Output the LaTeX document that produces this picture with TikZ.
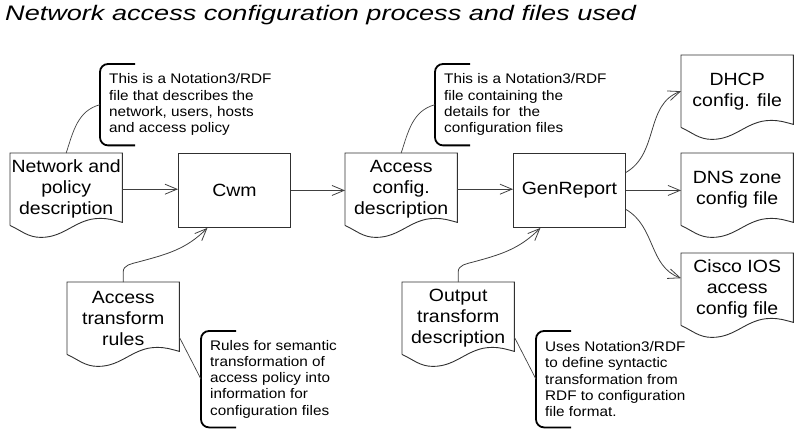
\documentclass[tikz,border=0pt]{standalone}
\usepackage{fontspec}
\setmainfont{Liberation Sans}[FakeStretch=1.1]
\newfontfamily\titlefont{Liberation Sans}[FakeStretch=1.29]
\usetikzlibrary{arrows.meta,calc}
\definecolor{boxcol}{HTML}{303030}
\definecolor{linecol}{HTML}{404040}
\tikzset{
 lbl/.style={font=\fontsize{17.7}{21}\selectfont},
 docnode/.style={lbl, minimum width=112pt, minimum height=72pt, inner sep=0pt, align=center, anchor=north west},
 procbox/.style={lbl, draw=boxcol, line width=0.9pt, minimum width=112pt, minimum height=74pt, inner sep=0pt, anchor=north west},
 notebox/.style={font=\fontsize{13.9}{16.2}\selectfont, align=left, inner xsep=9pt, inner ysep=0pt, anchor=north west, minimum height=81pt},
 docline/.style={draw=boxcol, line width=0.9pt},
 bracketline/.style={draw=black, line width=1.8pt, rounded corners=8pt},
 flow/.style={draw=linecol, line width=0.8pt, -{Straight Barb[length=12pt,width=10pt]}},
 leader/.style={draw=linecol, line width=0.7pt},
}
\newcommand\docoutline[1]{\draw[docline] (#1.south west) -- (#1.north west) -- (#1.north east) -- ($(#1.south east)+(0,3)$) to[out=165,in=0] ($(#1.south west)+(90,7)$) to[out=180,in=0] ($(#1.south west)+(31,-12)$) to[out=180,in=-25] (#1.south west);}
\newcommand\bracketfor[1]{\draw[bracketline] ($(#1.north west)+(35,0)$) -- (#1.north west) -- (#1.south west) -- ($(#1.south west)+(35,0)$);}
\begin{document}
\begin{tikzpicture}[x=1pt,y=1pt]
\useasboundingbox (0,0) rectangle (794,-430);
\node[anchor=base west, inner sep=0pt, font=\titlefont\itshape\fontsize{21}{25}\selectfont] (title) at (5,-21) {Network access configuration process and files used};

\node[docnode] (net) at (10,-153) {Network and\\policy\\description};
\node[procbox] (cwm) at (178,-153) {Cwm};
\node[docnode] (acd) at (345,-153) {Access\\config.\\description};
\node[procbox] (gen) at (513,-153) {GenReport};
\node[docnode] (dhcp) at (681,-55) {DHCP\\config. file};
\node[docnode] (dns) at (681,-153) {DNS zone\\config file};
\node[docnode] (cisco) at (681,-253) {Cisco IOS\\access\\config file};
\node[docnode] (rules) at (67,-282) {Access\\transform\\rules};
\node[docnode] (otd) at (402,-282) {Output\\transform\\description};
\foreach \d in {net,acd,dhcp,dns,cisco,rules,otd} {\docoutline{\d}}

\node[notebox] (n1) at (100,-64) {This is a Notation3/RDF\\file that describes the\\network, users, hosts\\and access policy};
\node[notebox] (n2) at (435,-64) {This is a Notation3/RDF\\file containing the\\details for\ \ the\\configuration files};
\node[notebox, minimum height=96pt] (n3) at (201,-331) {Rules for semantic\\transformation of\\access policy into\\information for\\configuration files};
\node[notebox, minimum height=96pt] (n4) at (536,-331) {Uses Notation3/RDF\\to define syntactic\\transformation from\\RDF to configuration\\file format.};
\foreach \n in {n1,n2,n3,n4} {\bracketfor{\n}}

\draw[flow] (net.east) -- (net.east -| cwm.west);
\draw[flow] (cwm.east) -- (cwm.east -| acd.west);
\draw[flow] (acd.east) -- (acd.east -| gen.west);
\draw[flow] (gen.east) -- (gen.east -| dns.west);
\draw[flow] ([yshift=18pt]gen.east) to[out=30,in=200] (dhcp.west);
\draw[flow] ([yshift=-19pt]gen.east) to[out=-30,in=160] ([yshift=11pt]cisco.west);
\draw[flow] (rules.north) -- ++(0,10) to[out=90,in=195] ++(15,10) to[out=15,in=225] ([xshift=-27pt]cwm.south);
\draw[flow] (otd.north) -- ++(0,10) to[out=90,in=195] ++(15,10) to[out=15,in=225] ([xshift=-29pt]gen.south);

\draw[leader] (net.north) to[out=72,in=195] (n1.west);
\draw[leader] (acd.north) to[out=72,in=195] (n2.west);
\draw[leader] ([yshift=-19pt]rules.east) -- (n3.west);
\draw[leader] ([yshift=-19pt]otd.east) -- (n4.west);
\end{tikzpicture}
\end{document}
